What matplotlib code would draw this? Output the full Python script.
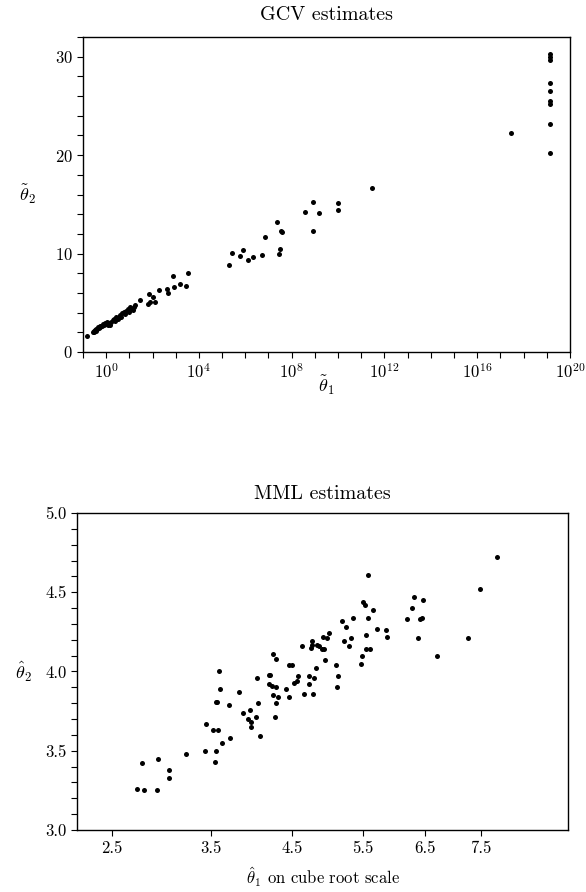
import numpy as np
import matplotlib
matplotlib.use("Agg")
import matplotlib.pyplot as plt
from matplotlib.ticker import FixedLocator, FuncFormatter, MultipleLocator, NullFormatter

plt.rcParams['font.family'] = ['cmr10', 'DejaVu Serif']
plt.rcParams['mathtext.fontset'] = 'cm'
plt.rcParams['axes.formatter.use_mathtext'] = True
plt.rcParams['font.size'] = 12

# ---- GCV estimates (theta1 given as log10, theta2) ----
gcv_log_theta1 = [
    -0.83, -0.585, -0.54, -0.51, -0.48, -0.455, -0.43, -0.40, -0.37, -0.33,
    -0.28, -0.25, -0.21, -0.17, -0.14, -0.10, -0.05, -0.02, 0.02, 0.06,
    0.12, 0.18, 0.23, 0.29, 0.32, 0.38, 0.44, 0.49, 0.55, 0.61,
    0.64, 0.69, 0.75, 0.81, 0.87, 0.92, 0.98, 1.04, 1.10, 1.15,
    1.21, 1.26, 1.46, 1.81, 1.83, 1.89, 2.03, 2.10, 2.29, 2.63,
    2.68, 2.87, 2.91, 3.18, 3.44, 3.54, 5.31, 5.41, 5.77, 5.91,
    6.13, 6.33, 6.74, 6.84, 7.45, 7.51, 7.35, 7.56, 7.58, 8.58,
    8.90, 8.94, 9.17, 9.99, 9.99, 11.46, 17.46,
    19.12, 19.12, 19.12, 19.12, 19.12, 19.12, 19.12, 19.12, 19.12,
]
gcv_theta2 = [
    1.65, 2.02, 2.15, 2.08, 2.25, 2.18, 2.35, 2.29, 2.49, 2.42,
    2.59, 2.49, 2.69, 2.59, 2.86, 2.76, 2.96, 2.86, 3.06, 2.72,
    2.93, 2.79, 3.09, 3.26, 3.40, 3.19, 3.53, 3.33, 3.60, 3.77,
    3.53, 3.94, 4.04, 3.84, 4.20, 4.34, 4.10, 4.61, 4.41, 4.27,
    4.57, 4.78, 5.29, 4.85, 5.86, 5.05, 5.62, 5.05, 6.30, 6.43,
    5.99, 7.70, 6.56, 6.93, 6.70, 7.98, 8.79, 10.07, 9.76, 10.34,
    9.39, 9.63, 9.87, 11.71, 9.93, 10.50, 13.20, 12.29, 12.22, 14.27,
    15.19, 12.32, 14.17, 15.10, 14.47, 16.66, 22.2,
    30.3, 30.0, 29.7, 27.3, 26.5, 25.5, 25.2, 23.2, 20.2,
]

# ---- MML estimates ----
mml_theta1 = [
    2.73, 2.78, 2.80, 2.93, 2.94, 3.05, 3.05, 3.23, 3.43, 3.44,
    3.52, 3.55, 3.56, 3.56, 3.57, 3.58, 3.59, 3.60, 3.62, 3.71,
    3.72, 3.82, 3.87, 3.93, 3.96, 3.97, 3.97, 4.03, 4.05, 4.06,
    4.08, 4.19, 4.21, 4.19, 4.23, 4.25, 4.25, 4.27, 4.28, 4.29,
    4.29, 4.31, 4.42, 4.45, 4.46, 4.49, 4.52, 4.56, 4.58, 4.63,
    4.65, 4.72, 4.73, 4.75, 4.76, 4.77, 4.78, 4.80, 4.82, 4.83,
    4.86, 4.90, 4.93, 4.92, 4.95, 4.98, 5.01, 5.10, 5.12, 5.13,
    5.20, 5.22, 5.25, 5.30, 5.33, 5.36, 5.48, 5.49, 5.50, 5.53,
    5.55, 5.56, 5.58, 5.59, 5.62, 5.66, 5.73, 5.86, 5.88, 6.20,
    6.28, 6.32, 6.39, 6.42, 6.46, 6.47, 6.72, 7.27, 7.49, 7.81,
]
mml_theta2 = [
    3.26, 3.42, 3.25, 3.25, 3.45, 3.38, 3.33, 3.48, 3.50, 3.67,
    3.63, 3.43, 3.81, 3.50, 3.81, 3.63, 4.00, 3.89, 3.55, 3.79,
    3.58, 3.87, 3.74, 3.70, 3.76, 3.68, 3.65, 3.71, 3.96, 3.80,
    3.59, 3.98, 3.98, 3.92, 3.91, 3.85, 4.11, 3.71, 4.08, 3.80,
    3.90, 3.84, 3.89, 3.84, 4.04, 4.04, 3.93, 3.94, 3.97, 4.16,
    3.86, 3.97, 3.92, 4.15, 4.17, 4.19, 3.86, 3.96, 4.02, 4.17,
    4.16, 4.14, 4.14, 4.22, 4.07, 4.21, 4.24, 4.04, 3.90, 3.97,
    4.32, 4.19, 4.28, 4.16, 4.21, 4.34, 4.05, 4.10, 4.44, 4.42,
    4.14, 4.23, 4.34, 4.61, 4.14, 4.39, 4.27, 4.26, 4.22, 4.33,
    4.40, 4.47, 4.21, 4.33, 4.34, 4.45, 4.10, 4.21, 4.52, 4.72,
]

mml_ticks = [2.5, 3.5, 4.5, 5.5, 6.5, 7.5]

fig = plt.figure(figsize=(5.86, 8.92), dpi=100)

# top panel
ax1 = fig.add_axes([0.1416, 0.6054, 0.831, 0.3531])
ax1.plot(10.0 ** np.array(gcv_log_theta1), gcv_theta2, 'o', color='black',
         markersize=3.6, markeredgewidth=0)
ax1.set_xscale('log')
ax1.set_xlim(1e-1, 1e20)
ax1.set_ylim(0, 32)
ax1.xaxis.set_major_locator(FixedLocator([10.0 ** k for k in range(0, 21, 4)]))
ax1.xaxis.set_minor_locator(FixedLocator([10.0 ** k for k in range(-1, 21)]))
ax1.xaxis.set_minor_formatter(NullFormatter())
ax1.xaxis.set_major_formatter(FuncFormatter(lambda v, p: r'$10^{%d}$' % round(np.log10(v))))
ax1.yaxis.set_major_locator(MultipleLocator(10))
ax1.yaxis.set_minor_locator(MultipleLocator(2))
ax1.set_title('GCV estimates', pad=12)
ax1.set_xlabel(r'$\tilde{\theta}_1$', fontsize=13)
ax1.xaxis.set_label_coords(0.5, -0.07)
ax1.set_ylabel(r'$\tilde{\theta}_2$', rotation=0, ha='center', va='center', fontsize=13)
ax1.yaxis.set_label_coords(-0.113, 0.5)

# bottom panel, cube root scale on x
ax2 = fig.add_axes([0.1314, 0.0695, 0.838, 0.3554])
ax2.plot(mml_theta1, mml_theta2, 'o', color='black', markersize=3.6, markeredgewidth=0)
ax2.set_xscale('function', functions=(np.cbrt, lambda v: v ** 3))
ax2.set_xlim(1.3 ** 3, 2.1 ** 3)
ax2.set_ylim(3.0, 5.0)
ax2.xaxis.set_major_locator(FixedLocator(mml_ticks))
ax2.xaxis.set_minor_locator(FixedLocator([]))
ax2.xaxis.set_major_formatter(FuncFormatter(lambda v, p: '%.1f' % v))
ax2.yaxis.set_major_locator(MultipleLocator(0.5))
ax2.yaxis.set_minor_locator(MultipleLocator(0.1))
ax2.yaxis.set_major_formatter(FuncFormatter(lambda v, p: '%.1f' % v))
ax2.set_title('MML estimates', pad=10)
ax2.set_xlabel(r'$\hat{\theta}_1$ on cube root scale')
ax2.xaxis.set_label_coords(0.5, -0.11)
ax2.set_ylabel(r'$\hat{\theta}_2$', rotation=0, ha='center', va='center', fontsize=13)
ax2.yaxis.set_label_coords(-0.108, 0.5)

for ax in (ax1, ax2):
    ax.tick_params(which='both', direction='out', length=4, width=0.8,
                   top=False, right=False, labelsize=12)
    for s in ax.spines.values():
        s.set_linewidth(1.0)

fig.savefig('out.png', dpi=100)
